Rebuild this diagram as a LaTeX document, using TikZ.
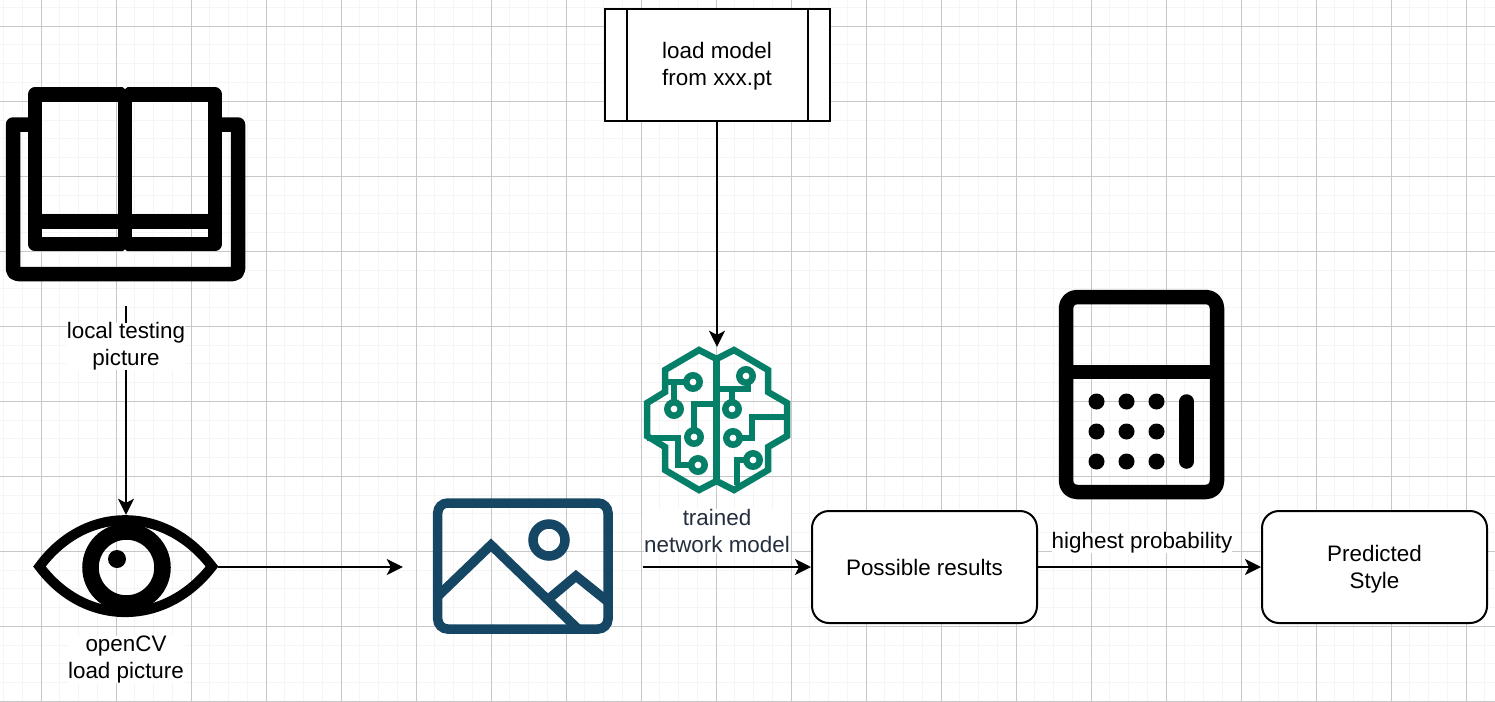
\documentclass[tikz,border=0pt]{standalone}
\usepackage{fontspec}
\setmainfont{Liberation Sans}
\usetikzlibrary{arrows.meta}
\definecolor{brainc}{HTML}{067F68}
\definecolor{photoc}{HTML}{154764}
\definecolor{modeltext}{HTML}{232F3E}

\begin{document}
\begin{tikzpicture}[
  x=1pt, y=-1pt,
  font=\fontsize{22.4}{27}\selectfont,
  box/.style={draw, fill=white, line width=2pt, minimum width=225pt, minimum height=112pt, align=center, inner sep=0pt},
  icon/.style={inner sep=0pt},
  lbl/.style={align=center, inner sep=0pt, fill=white},
  link/.style={line width=2pt, -{Stealth[length=16pt, width=16pt, inset=4pt]}},
  inkblack/.style={line width=14.5pt, line join=round, draw=black},
  brainline/.style={line width=6.5pt, draw=brainc, line join=miter},
  brainpad/.style={line width=6.5pt, draw=brainc, fill=white},
  photoline/.style={line width=9.5pt, draw=photoc, line join=miter},
]
  \useasboundingbox (0,0) rectangle (1495,701);

  % --- page grid ---
  \foreach \i in {0,...,80} {
    \draw[line width=1pt, black!4] ({3.5+18.75*\i},0) -- ({3.5+18.75*\i},701);
  }
  \foreach \i in {0,...,38} {
    \draw[line width=1pt, black!4] (0,{7.5+18.75*\i}) -- (1495,{7.5+18.75*\i});
  }
  \foreach \i in {0,...,19} {
    \draw[line width=1pt, black!22] ({41.5+75*\i},0) -- ({41.5+75*\i},701);
  }
  \foreach \i in {0,...,9} {
    \draw[line width=1pt, black!22] (0,{26.3+75*\i}) -- (1495,{26.3+75*\i});
  }

  % --- book ---
  \draw[inkblack] (35,124.5) [sharp corners] -- (13,124.5) [rounded corners=5pt] -- (13,274) -- (238,274) [sharp corners] -- (238,124.5) -- (215,124.5);
  \draw[inkblack] (35,94.5) rectangle (125,244);
  \draw[inkblack] (125,94.5) rectangle (215,244);
  \draw[inkblack] (35,221.5) -- (215,221.5);
  \fill[white] (122.5,87) -- (127.5,87) -- (125,89) -- cycle;
  \fill[white] (122.5,251.5) -- (127.5,251.5) -- (125,249.5) -- cycle;
  \node[icon, minimum width=240pt, minimum height=200pt] (book) at (126,206) {};

  % --- eye ---
  \draw[line width=10pt, line join=miter, draw=black] (39.5,566.5) .. controls (85,504.7) and (165,504.7) .. (212,566.5)
    .. controls (165,627.3) and (85,627.3) .. (39.5,566.5) -- cycle;
  \draw[line width=16.5pt] (126.5,567.5) circle (36pt);
  \fill (117,559) circle (9pt);
  \node[icon, minimum width=184pt, minimum height=104pt] (eye) at (126,567) {};

  % --- photo ---
  \draw[photoline, rounded corners=10pt] (437.7,503) rectangle (608,629);
  \draw[photoline] (438,596) -- (491,545) -- (578,629);
  \draw[photoline] (551,597) -- (576,576) -- (607,601);
  \draw[photoline] (549,540) circle (16pt);
  \node[icon, minimum width=240pt, minimum height=140pt] (photo) at (523,567) {};

  % --- trained network model ---
  \draw[brainline] (716.5,359) -- (716.5,481);
  \draw[brainline] (716.5,359) -- (699,350) -- (665,370) -- (665,392) -- (647,403) -- (647,436) -- (665,447) -- (665,470) -- (699,490) -- (716.5,481) -- (734,490) -- (768,470) -- (768,447) -- (787,436) -- (787,403) -- (768,392) -- (768,370) -- (734,350) -- cycle;
  % left half traces
  \draw[brainline] (665,382) -- (693,382);
  \draw[brainline] (674,382) -- (674,409);
  \draw[brainline] (716,404) -- (694,404) -- (694,437);
  \draw[brainline] (647,438) -- (678,438) -- (678,465) -- (698,465);
  \draw[brainpad] (693,382) circle (6.7pt);
  \draw[brainpad] (674,409) circle (6.7pt);
  \draw[brainpad] (694,437) circle (6.7pt);
  \draw[brainpad] (698,465) circle (6.7pt);
  % right half traces
  \draw[brainline] (716,389) -- (748,389) -- (748,376);
  \draw[brainline] (732,389) -- (732,409);
  \draw[brainline] (787,417) -- (752,417) -- (752,438) -- (733,438);
  \draw[brainline] (737,485) -- (737,460) -- (753,460);
  \draw[brainpad] (746,376) circle (6.7pt);
  \draw[brainpad] (732,409) circle (6.7pt);
  \draw[brainpad] (733,438) circle (6.7pt);
  \draw[brainpad] (753,460) circle (6.7pt);
  \node[icon, minimum width=150pt, minimum height=146pt] (brain) at (717,420) {};

  % --- calculator ---
  \draw[inkblack, rounded corners=11pt] (1066,297) rectangle (1217,492);
  \draw[inkblack] (1066,372) -- (1217,372);
  \foreach \cx in {1096.5,1126.5,1156.5} {
    \foreach \cy in {401.5,431.5,461.5} {
      \fill (\cx,\cy) circle (8pt);
    }
  }
  \draw[inkblack, line cap=round] (1186.7,401.5) -- (1186.7,461.5);
  \node[icon, minimum width=170pt, minimum height=210pt] (calc) at (1141,395) {};

  % --- boxes ---
  \node[box, text height=46pt] (loader) at (717,65) {load model\\from xxx.pt};
  \draw[line width=2pt] ([xshift=23pt]loader.north west) -- ([xshift=23pt]loader.south west);
  \draw[line width=2pt] ([xshift=-23pt]loader.north east) -- ([xshift=-23pt]loader.south east);
  \node[box, rounded corners=17pt] (results) at (924.5,567) {Possible results};
  \node[box, rounded corners=17pt, text height=47pt] (predicted) at (1374.5,567) {Predicted\\Style};

  % --- connectors ---
  \draw[link] (book.south) -- (eye.north);
  \draw[link] (loader) -- (brain.north);
  \draw[link] (eye.east) -- (photo.west);
  \draw[link] (photo.east) -- (results.west);
  \draw[link] (results) -- (predicted);

  % --- labels ---
  \node[lbl] (booklabel) at (126,346.5) {local testing\\picture};
  \node[lbl] (eyelabel) at (126,659.5) {openCV\\load picture};
  \node[lbl, text=modeltext] (brainlabel) at (717,531) {trained\\network model};
  \node[lbl] (problabel) at (1142,543) {highest probability};
\end{tikzpicture}
\end{document}
